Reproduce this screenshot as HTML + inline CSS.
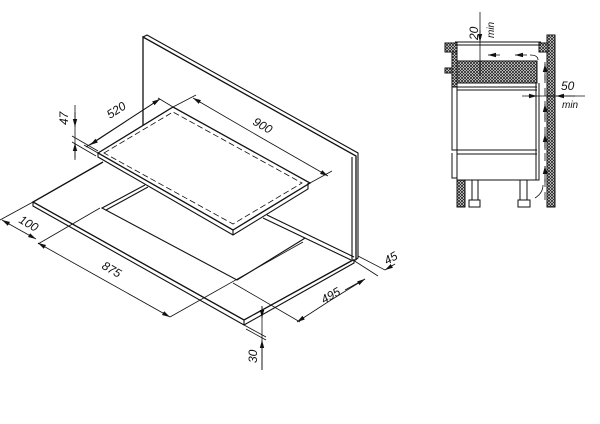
<!DOCTYPE html>
<html><head><meta charset="utf-8"><style>
html,body{margin:0;padding:0;background:#fff;}
svg{display:block;}
text{font-family:"Liberation Sans",sans-serif;font-size:12px;font-style:italic;fill:#111;}
</style></head><body>
<svg width="600" height="424" viewBox="0 0 600 424" xmlns="http://www.w3.org/2000/svg">
<defs>
<pattern id="h" width="3" height="3" patternUnits="userSpaceOnUse">
<rect width="3" height="3" fill="#fff"/>
<path d="M0 0L3 3M3 0L0 3" stroke="#222" stroke-width="0.8"/>
</pattern>
<marker id="a" markerWidth="8" markerHeight="6" refX="8" refY="3" orient="auto" markerUnits="userSpaceOnUse">
<path d="M0 0.8L8 3L0 5.2z" fill="#111"/>
</marker>
</defs>
<g stroke="#111" fill="none" stroke-width="1.1">
<!-- back panel -->
<path d="M143 126V37L356 156V260" stroke-width="1.3"/>
<path d="M143 37L147 35L358 153V258L354 261"/>
<path d="M352 157V260"/>
<!-- worktop -->
<path d="M103 162L33 202L244 320L353 260" stroke-width="1.3"/>
<path d="M33 202V206L244 325L354 263V259"/>
<path d="M244 320V325"/>
<path d="M263 218L351 260M267 215L354 257"/>
<!-- cutout -->
<path d="M145 185L102 208L237 280L302 240"/>
<path d="M148 187L106 210"/>
<path d="M302 240L305 238"/>
<!-- hob -->
<path d="M98 153L173 107L310 183L233 230Z" fill="#fff" stroke-width="1.3"/>
<path d="M98 153V157L233 235L308 189V183"/>
<path d="M233 230V235"/>
<path d="M104 153L173 112L302 183L233 224Z" stroke-dasharray="6 3" stroke-width="0.8"/>
<!-- dimensions -->
<g stroke-width="0.8">
<path d="M75 105V160"/>
<path d="M75 112L75 127" marker-end="url(#a)"/>
<path d="M75 158L75 143" marker-end="url(#a)"/>
<path d="M72 136L98 151M72 142L96 156"/>
<path d="M86 147L160 99" />
<path d="M125 122L90 145" marker-end="url(#a)"/>
<path d="M125 122L160 99" marker-end="url(#a)"/>
<path d="M98 153L84 145M173 107L158 98M173 107L196 95M310 183L332 171"/>
<path d="M260 137L193 98" marker-end="url(#a)"/>
<path d="M260 137L328 176" marker-end="url(#a)"/>
<path d="M33 202L0 220M100 208L38 244"/>
<path d="M18 229L2 220" marker-end="url(#a)"/>
<path d="M18 229L36 239" marker-end="url(#a)"/>
<path d="M104 280L38 243" marker-end="url(#a)"/>
<path d="M104 280L170 317" marker-end="url(#a)"/>
<path d="M170 317L303 242"/>
<path d="M233 283L300 322"/>
<path d="M331 300L297 322" marker-end="url(#a)"/>
<path d="M331 300L365 279" marker-end="url(#a)"/>
<path d="M353 260L378 276M358 256L385 270"/>
<path d="M345 290L365 279"/>
<path d="M395 264L385 270" marker-end="url(#a)"/>
<path d="M244 325L266 337M246 329L266 340"/>
<path d="M262 306L262 318" marker-end="url(#a)" />
<path d="M262 370L262 340" marker-end="url(#a)"/>
<path d="M262 306V370"/>
</g>
</g>
<text transform="translate(68,125) rotate(-90)">47</text>
<text transform="translate(110,119) rotate(-33)">520</text>
<text transform="translate(252,124) rotate(30)">900</text>
<text transform="translate(18,222) rotate(30)">100</text>
<text transform="translate(101,268) rotate(30)">875</text>
<text transform="translate(324,304) rotate(-30)">495</text>
<text transform="translate(387,265) rotate(-30)">45</text>
<text transform="translate(257,363) rotate(-90)">30</text>

<!-- right section drawing -->
<g stroke="#111" stroke-width="1" fill="none">
<rect x="547" y="35" width="8" height="172" fill="url(#h)"/>
<rect x="445" y="43" width="12" height="9" fill="url(#h)"/>
<rect x="539" y="43" width="9" height="9" fill="url(#h)"/>
<path d="M455 42H541M455 45H541"/>
<rect x="452" y="52" width="5" height="35" fill="url(#h)"/>
<rect x="445" y="68" width="7" height="5" fill="url(#h)"/>
<rect x="457" y="61" width="80" height="22" fill="url(#h)"/>
<path d="M457 87H537M457 90H537"/>
<path d="M457 87V180H539V83M536 83V180"/>
<path d="M452 87V150H457M452 153V178H457"/>
<path d="M457 150H537M457 154H537"/>
<rect x="457" y="180" width="8" height="27" fill="url(#h)"/>
<rect x="472" y="180" width="6" height="20"/>
<rect x="469" y="200" width="11" height="7"/>
<rect x="520" y="180" width="7" height="20"/>
<rect x="518" y="200" width="12" height="7"/>
<g stroke-width="0.8">
<path d="M545 200V60" stroke-dasharray="8 5"/>
<path d="M545 80V64" marker-end="url(#a)"/>
<path d="M545 120V104" marker-end="url(#a)"/>
<path d="M545 150V134" marker-end="url(#a)"/>
<path d="M545 182V166" marker-end="url(#a)"/>
<path d="M535 198Q543 193 543 185"/>
<path d="M538 60Q538 55 530 55"/>
<path d="M527 55H515" marker-end="url(#a)"/>
<path d="M500 55H488" marker-end="url(#a)"/>
<path d="M480 12V76"/>
<path d="M480 30V42" marker-end="url(#a)"/>
<path d="M522 96H585"/>
<path d="M528 96H537" marker-end="url(#a)"/>
<path d="M575 96H556" marker-end="url(#a)"/>
</g>
</g>
<text transform="translate(478,40) rotate(-90)">20</text>
<text transform="translate(494,38) rotate(-90)" style="font-size:10px">min</text>
<text x="561" y="90">50</text>
<text x="562" y="108" style="font-size:10px">min</text>
</svg>
</body></html>
